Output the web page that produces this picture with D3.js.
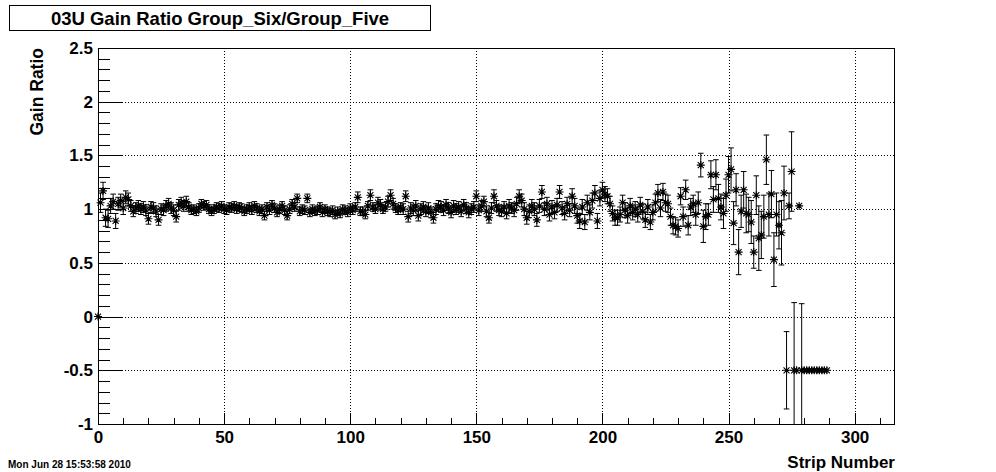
<!DOCTYPE html>
<html>
<head>
<meta charset="utf-8">
<script src="https://cdn.jsdelivr.net/npm/d3@7"></script>
<style>
  html, body { margin: 0; padding: 0; background: #fff; }
  svg { display: block; }
  text { font-family: "Liberation Sans", Arial, Helvetica, sans-serif; font-weight: bold; fill: #000; }
</style>
</head>
<body>
<svg id="chart" width="996" height="472"></svg>
<script>
// ---- data ----
const chartTitle = "03U Gain Ratio Group_Six/Group_Five";
const xLabel = "Strip Number";
const yLabel = "Gain Ratio";
const dateText = "Mon Jun 28 15:53:58 2010";
const xTicks = [0, 50, 100, 150, 200, 250, 300];
const yTicks = [-1, -0.5, 0, 0.5, 1, 1.5, 2, 2.5];

// gain ratio per strip, starting at strip 0
const ratio = [
  0,
  1.06, 1.17, 0.92, 0.91, 1.03, 1.07, 0.89, 1.05, 1.08, 1.01,
  1.11, 1.09, 1.03, 0.98, 1.01, 1.03, 1.00, 1.02, 0.99, 0.91,
  1.02, 1.01, 0.98, 0.90, 1.00, 0.99, 1.03, 1.05, 1.01, 0.99,
  0.93, 1.04, 1.06, 1.03, 1.07, 1.02, 0.99, 1.00, 0.98, 1.01,
  1.05, 1.03, 1.04, 1.00, 0.98, 1.00, 1.02, 1.01, 1.03, 1.00,
  0.99, 1.02, 1.01, 1.03, 1.00, 1.02, 1.01, 0.98, 1.00, 1.02,
  0.99, 1.03, 1.01, 0.98, 1.00, 0.94, 1.02, 0.99, 1.04, 1.01,
  0.97, 1.00, 1.03, 0.99, 0.94, 1.00, 1.05, 1.02, 1.10, 0.98,
  1.00, 0.99, 1.10, 0.97, 1.00, 0.98, 0.99, 1.02, 0.97, 1.00,
  0.98, 0.97, 0.99, 0.95, 0.98, 0.96, 1.00, 0.99, 0.97, 1.01,
  0.99, 1.02, 1.11, 0.98, 0.98, 0.95, 1.03, 1.13, 1.02, 1.00,
  1.06, 1.04, 1.00, 1.02, 1.07, 1.13, 1.05, 1.01, 0.99, 1.02,
  1.00, 1.12, 0.93, 1.01, 0.99, 1.03, 0.94, 1.00, 1.02, 0.98,
  1.01, 0.97, 0.92, 1.00, 1.03, 1.02, 0.99, 1.04, 1.01, 0.97,
  1.03, 1.00, 1.02, 0.98, 1.04, 1.01, 0.97, 1.00, 1.02, 1.12,
  0.99, 1.03, 1.07, 0.98, 0.92, 1.01, 1.12, 1.03, 0.99, 0.98,
  1.02, 0.96, 1.03, 1.01, 0.99, 1.05, 1.12, 1.08, 1.00, 0.92,
  0.98, 1.03, 1.00, 0.90, 1.03, 1.16, 1.00, 1.05, 0.95, 1.02,
  0.97, 1.04, 1.16, 1.01, 0.96, 1.05, 0.99, 1.12, 1.03, 0.94,
  0.89, 1.02, 0.88, 1.06, 0.97, 1.08, 1.15, 0.89, 1.10, 1.18,
  1.14, 1.12, 1.05, 0.96, 0.92, 0.92, 0.95, 1.06, 0.99, 0.94,
  1.03, 0.97, 1.00, 0.95, 1.04, 0.98, 0.90, 1.02, 0.88, 0.97,
  1.06, 1.15, 1.01, 1.16, 1.06, 1.05, 0.93, 0.85, 0.84, 0.82,
  1.12, 0.93, 1.18, 0.85, 1.02, 1.05, 0.95, 1.06, 1.41, 0.84,
  0.93, 0.95, 1.32, 1.09, 1.32, 1.10, 1.02, 0.96, 1.13, 1.32,
  1.37, 0.87, 1.18, 0.60, 0.98, 1.18, 0.96, 0.95, 0.88, 0.60,
  1.13, 0.73, 0.76, 0.93, 1.46, 0.95, 1.14, 0.53, 0.95, 0.85,
  0.78, 1.15, -0.5, 1.03, 1.35, -0.5, -0.5, 1.03, -0.5, -0.5,
  -0.5, -0.5, -0.5, -0.5, -0.5, -0.5, -0.5, -0.5, -0.5
];

// error on the ratio per strip, starting at strip 0
const ratioErr = [
  0,
  0.09, 0.08, 0.08, 0.08, 0.07, 0.07, 0.07, 0.06, 0.06, 0.06,
  0.06, 0.06, 0.05, 0.05, 0.05, 0.05, 0.05, 0.05, 0.05, 0.05,
  0.05, 0.05, 0.05, 0.05, 0.05, 0.05, 0.05, 0.05, 0.05, 0.05,
  0.05, 0.05, 0.05, 0.05, 0.05, 0.04, 0.04, 0.04, 0.04, 0.04,
  0.04, 0.04, 0.04, 0.04, 0.04, 0.04, 0.04, 0.04, 0.04, 0.04,
  0.04, 0.04, 0.04, 0.04, 0.04, 0.04, 0.04, 0.04, 0.04, 0.04,
  0.04, 0.04, 0.04, 0.04, 0.04, 0.04, 0.04, 0.04, 0.04, 0.04,
  0.04, 0.04, 0.04, 0.04, 0.04, 0.04, 0.04, 0.04, 0.04, 0.04,
  0.04, 0.04, 0.04, 0.04, 0.04, 0.04, 0.04, 0.04, 0.04, 0.04,
  0.04, 0.04, 0.04, 0.04, 0.04, 0.04, 0.04, 0.04, 0.04, 0.04,
  0.04, 0.04, 0.05, 0.04, 0.04, 0.04, 0.04, 0.05, 0.04, 0.04,
  0.05, 0.05, 0.04, 0.04, 0.05, 0.05, 0.05, 0.04, 0.04, 0.04,
  0.05, 0.05, 0.05, 0.05, 0.05, 0.05, 0.05, 0.05, 0.05, 0.05,
  0.05, 0.05, 0.05, 0.05, 0.05, 0.05, 0.05, 0.05, 0.05, 0.05,
  0.05, 0.05, 0.05, 0.05, 0.05, 0.05, 0.05, 0.05, 0.05, 0.05,
  0.05, 0.05, 0.05, 0.05, 0.05, 0.05, 0.06, 0.05, 0.05, 0.05,
  0.05, 0.05, 0.06, 0.05, 0.06, 0.06, 0.06, 0.06, 0.06, 0.06,
  0.06, 0.06, 0.06, 0.06, 0.06, 0.06, 0.06, 0.06, 0.06, 0.06,
  0.06, 0.06, 0.06, 0.06, 0.06, 0.06, 0.06, 0.07, 0.07, 0.07,
  0.07, 0.07, 0.07, 0.07, 0.07, 0.07, 0.07, 0.07, 0.07, 0.07,
  0.07, 0.07, 0.07, 0.07, 0.07, 0.07, 0.07, 0.07, 0.07, 0.07,
  0.07, 0.07, 0.07, 0.07, 0.07, 0.07, 0.07, 0.07, 0.07, 0.07,
  0.08, 0.08, 0.08, 0.08, 0.08, 0.08, 0.08, 0.08, 0.08, 0.08,
  0.08, 0.09, 0.09, 0.09, 0.08, 0.08, 0.10, 0.10, 0.11, 0.15,
  0.12, 0.10, 0.13, 0.12, 0.14, 0.13, 0.12, 0.14, 0.15, 0.17,
  0.20, 0.20, 0.15, 0.21, 0.15, 0.17, 0.18, 0.16, 0.20, 0.15,
  0.18, 0.30, 0.22, 0.20, 0.23, 0.20, 0.22, 0.25, 0.20, 0.22,
  0.30, 0.25, 0.36, 0.12, 0.37, 0.63, 0.00, 0.00, 0.62, 0.00,
  0.00, 0.00, 0.00, 0.00, 0.00, 0.00, 0.00, 0.00, 0.00
];

// ---- layout ----
const W = 996, H = 472;
const frame = { left: 98, right: 895, top: 48, bottom: 424 };
const svg = d3.select("#chart");

const x = d3.scaleLinear().domain([0, 316]).range([frame.left, frame.right]);
const y = d3.scaleLinear().domain([-1, 2.5]).range([frame.bottom, frame.top]);

const pts = ratio.map((v, i) => ({ strip: i, v: v, e: ratioErr[i] }));

// background
svg.append("rect").attr("width", W).attr("height", H).attr("fill", "#fff");

// clip for data
svg.append("clipPath").attr("id", "clip")
  .append("rect")
  .attr("x", frame.left).attr("y", frame.top)
  .attr("width", frame.right - frame.left).attr("height", frame.bottom - frame.top);

// ---- grid (dotted) ----
const gridG = svg.append("g").attr("stroke", "#000").attr("stroke-width", 1)
  .attr("stroke-dasharray", "1,2").attr("shape-rendering", "crispEdges");
gridG.selectAll("line.gx").data(xTicks.filter(t => t > 0)).join("line")
  .attr("x1", d => Math.round(x(d)) + 0.5).attr("x2", d => Math.round(x(d)) + 0.5)
  .attr("y1", frame.top).attr("y2", frame.bottom);
gridG.selectAll("line.gy").data(yTicks.filter(t => t > -1 && t < 2.5)).join("line")
  .attr("y1", d => Math.round(y(d)) + 0.5).attr("y2", d => Math.round(y(d)) + 0.5)
  .attr("x1", frame.left).attr("x2", frame.right);

// ---- axes ----
const xMinor = d3.range(0, 317, 10);
const yMinor = d3.range(-10, 26, 1).map(d => d / 10);
const plainFmt = d => String(d);

const xAxisMinor = d3.axisBottom(x).tickValues(xMinor).tickSizeInner(-6).tickSizeOuter(0).tickFormat("");
const xAxisMajor = d3.axisBottom(x).tickValues(xTicks).tickSizeInner(-11).tickSizeOuter(0).tickPadding(7)
  .tickFormat(plainFmt);
const yAxisMinor = d3.axisLeft(y).tickValues(yMinor).tickSizeInner(-12).tickSizeOuter(0).tickFormat("");
const yAxisMajor = d3.axisLeft(y).tickValues(yTicks).tickSizeInner(-24).tickSizeOuter(0).tickPadding(5)
  .tickFormat(plainFmt);

function styleAxis(g) {
  g.select(".domain").remove();
  g.selectAll("line").attr("stroke", "#000").attr("shape-rendering", "crispEdges");
  g.selectAll("text").attr("font-size", 17).attr("font-family", "'Liberation Sans', Arial, sans-serif")
    .attr("font-weight", "bold").attr("fill", "#000");
}
svg.append("g").attr("transform", `translate(0,${frame.bottom})`).call(xAxisMinor).call(styleAxis);
svg.append("g").attr("transform", `translate(0,${frame.bottom})`).call(xAxisMajor).call(styleAxis);
svg.append("g").attr("transform", `translate(${frame.left},0)`).call(yAxisMinor).call(styleAxis);
svg.append("g").attr("transform", `translate(${frame.left},0)`).call(yAxisMajor).call(styleAxis);

// frame
svg.append("rect")
  .attr("x", frame.left + 0.5).attr("y", frame.top + 0.5)
  .attr("width", frame.right - frame.left - 1).attr("height", frame.bottom - frame.top)
  .attr("fill", "none").attr("stroke", "#000").attr("stroke-width", 1).attr("shape-rendering", "crispEdges");

// ---- data: error bars + star markers ----
const dataG = svg.append("g").attr("clip-path", "url(#clip)")
  .attr("stroke", "#000").attr("stroke-width", 1).attr("fill", "none");

const withErr = pts.filter(d => d.e > 0);
const cap = 2.8;
const ebar = dataG.selectAll("g.eb").data(withErr).join("g");
ebar.append("line")
  .attr("x1", d => x(d.strip)).attr("x2", d => x(d.strip))
  .attr("y1", d => y(d.v + d.e)).attr("y2", d => y(d.v - d.e));
ebar.append("line")
  .attr("x1", d => x(d.strip) - cap).attr("x2", d => x(d.strip) + cap)
  .attr("y1", d => y(d.v + d.e)).attr("y2", d => y(d.v + d.e));
ebar.append("line")
  .attr("x1", d => x(d.strip) - cap).attr("x2", d => x(d.strip) + cap)
  .attr("y1", d => y(d.v - d.e)).attr("y2", d => y(d.v - d.e));

const r = 4, rd = 3;
const starPath = `M${-r},0L${r},0M0,${-r}L0,${r}M${-rd},${-rd}L${rd},${rd}M${-rd},${rd}L${rd},${-rd}`;
svg.append("g").attr("stroke", "#000").attr("stroke-width", 1.1).attr("fill", "none")
  .selectAll("path").data(pts).join("path")
  .attr("transform", d => `translate(${x(d.strip)},${y(d.v)})`)
  .attr("d", starPath);

// ---- texts ----
// title box
svg.append("rect").attr("x", 9.5).attr("y", 5.5).attr("width", 421).attr("height", 25)
  .attr("fill", "#fff").attr("stroke", "#000").attr("stroke-width", 1).attr("shape-rendering", "crispEdges");
svg.append("text").attr("x", 220).attr("y", 25).attr("text-anchor", "middle")
  .attr("font-size", 18.5).text(chartTitle);

svg.append("text").attr("transform", `translate(43,${frame.top}) rotate(-90)`)
  .attr("text-anchor", "end").attr("font-size", 17.5).text(yLabel);

svg.append("text").attr("x", frame.right).attr("y", 468).attr("text-anchor", "end")
  .attr("font-size", 17).text(xLabel);

svg.append("text").attr("x", 8).attr("y", 468).attr("font-size", 10).text(dateText);
</script>
</body>
</html>
